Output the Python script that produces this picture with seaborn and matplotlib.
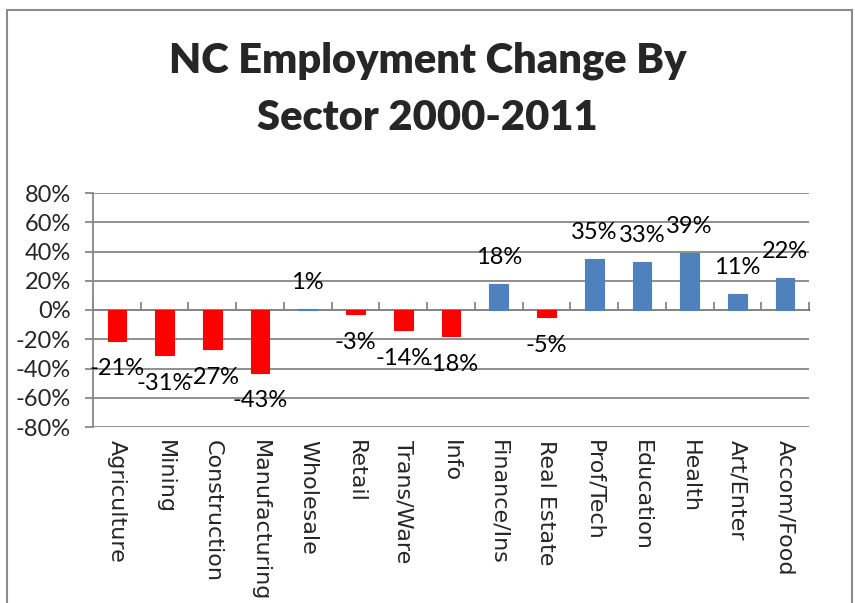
import matplotlib
matplotlib.use("Agg")
import matplotlib.pyplot as plt
import seaborn as sns
import pandas as pd
from matplotlib.patches import Rectangle
from matplotlib.ticker import FuncFormatter

sectors = ["Agriculture", "Mining", "Construction", "Manufacturing", "Wholesale",
           "Retail", "Trans/Ware", "Info", "Finance/Ins", "Real Estate",
           "Prof/Tech", "Education", "Health", "Art/Enter", "Accom/Food"]
changes = [-0.21, -0.31, -0.27, -0.43, 0.01, -0.03, -0.14, -0.18, 0.18, -0.05,
           0.35, 0.33, 0.39, 0.11, 0.22]
yticks = [-0.8, -0.6, -0.4, -0.2, 0.0, 0.2, 0.4, 0.6, 0.8]
title = "NC Employment Change By\nSector 2000-2011"

RED = "#FF0000"
BLUE = "#4F81BD"
GRID = "#878787"

sns.set_theme(style="white")
plt.rcParams["font.family"] = ["Lato", "DejaVu Sans"]
plt.rcParams["axes.unicode_minus"] = False

df = pd.DataFrame({"sector": sectors, "change": changes})
palette = {s: (BLUE if v >= 0 else RED) for s, v in zip(sectors, changes)}

fig = plt.figure(figsize=(8.55, 6.03), dpi=100)
ax = fig.add_axes([93 / 855, 1 - 427 / 603, (809 - 93) / 855, (427 - 193) / 603])

ax.axhline(0, color=GRID, linewidth=1.3, zorder=1)
sns.barplot(data=df, x="sector", y="change", hue="sector", palette=palette,
            legend=False, width=0.39, saturation=1, ax=ax)
for p in ax.patches:
    p.set_zorder(4)
    p.set_edgecolor(p.get_facecolor())
    p.set_linewidth(0.8)

ax.set_ylim(-0.8, 0.8)
ax.set_xlim(-0.5, len(sectors) - 0.5)
ax.set_yticks(yticks)
ax.yaxis.set_major_formatter(FuncFormatter(lambda v, _: f"{v * 100:.0f}%"))
ax.grid(axis="y", color=GRID, linewidth=1.3, zorder=0)
ax.set_axisbelow(True)
for s in ["top", "right", "bottom"]:
    ax.spines[s].set_visible(False)
ax.spines["left"].set_color(GRID)
ax.spines["left"].set_linewidth(1.3)
ax.tick_params(axis="y", which="major", direction="out", length=6, width=1.3,
               color=GRID, labelsize=17, pad=10, left=True)
ax.tick_params(axis="x", length=0, labelsize=16, pad=9)
ax.set_xticks(range(len(sectors)))
ax.set_xticklabels(sectors, rotation=270, va="top", ha="center",
                   family=["DejaVu Sans"])
ax.set_xlabel("")
ax.set_ylabel("")

# zero axis boundary tick marks
sec = ax.secondary_xaxis(0.5)
sec.set_xticks([i - 0.5 for i in range(len(sectors) + 1)])
sec.set_xticklabels([])
sec.tick_params(axis="x", direction="out", length=6, width=1.3, color=GRID)
sec.spines["bottom"].set_visible(False)

for i, v in enumerate(changes):
    off = 19 if v >= 0 else -20
    ax.annotate(f"{v * 100:.0f}%", xy=(i, v), xytext=(0, off),
                textcoords="offset points", ha="center", va="center",
                fontsize=17, color="black", zorder=5)

fig.text(0.5, 1 - 89 / 603, title, ha="center", va="center", fontsize=30,
         fontweight="heavy", linespacing=1.6)

fig.patches.append(Rectangle((7 / 855, -0.02), (852 - 7) / 855, 1 - 10 / 603 + 0.02,
                             transform=fig.transFigure, fill=False,
                             edgecolor="#8C8C8C", linewidth=1.5))

fig.savefig("out.png", dpi=100)
